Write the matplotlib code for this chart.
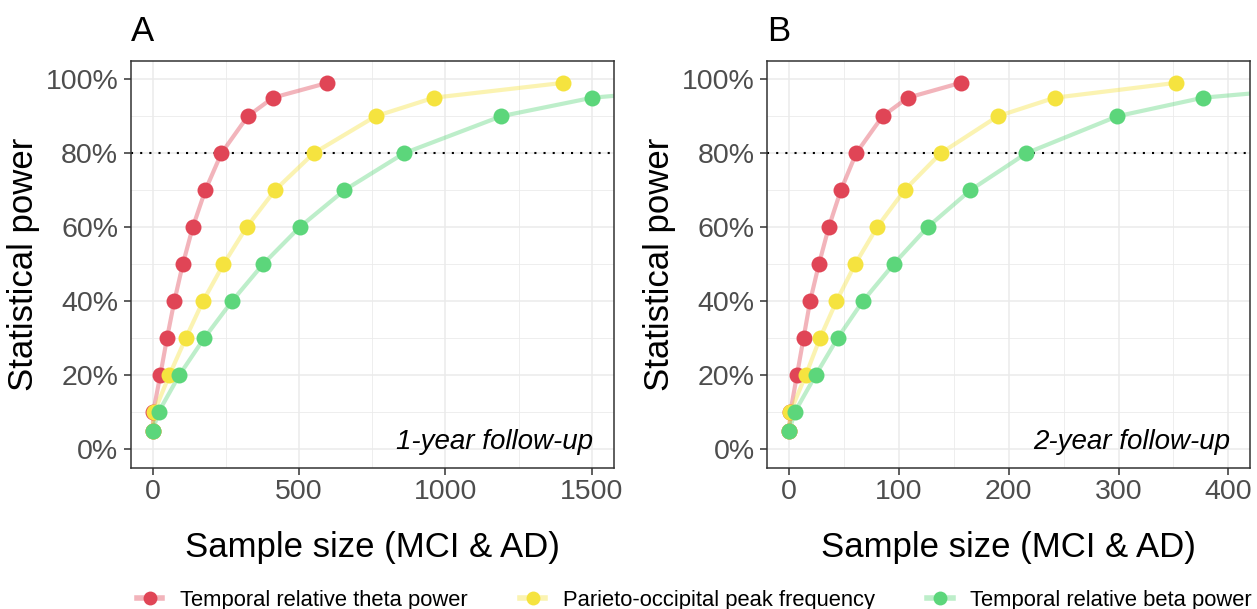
import numpy as np
import matplotlib
matplotlib.use("Agg")
import matplotlib.pyplot as plt
from matplotlib.lines import Line2D

plt.rcParams["font.family"] = ["Liberation Sans", "DejaVu Sans"]

power = [0.05, 0.10, 0.20, 0.30, 0.40, 0.50, 0.60, 0.70, 0.80, 0.90, 0.95, 0.99]
series_names = [
    "Temporal relative theta power",
    "Parieto-occipital peak frequency",
    "Temporal relative beta power",
]
colors = ["#E04556", "#F5E33F", "#5CD67B"]

# sample sizes, 1-year follow-up
n_1y_theta = [0, 2, 26, 49, 74, 103, 137, 180, 235, 325, 411, 597]
n_1y_peak = [0, 5, 57, 113, 172, 242, 321, 418, 550, 762, 961, 1401]
n_1y_beta = [0, 20, 91, 176, 271, 377, 502, 655, 859, 1191, 1502, 2100]

# sample sizes, 2-year follow-up
n_2y_theta = [0, 1, 7, 13, 19, 27, 36, 47, 61, 85, 108, 156]
n_2y_peak = [0, 1, 15, 28, 43, 60, 80, 105, 138, 190, 242, 352]
n_2y_beta = [0, 5, 24, 44, 67, 95, 126, 165, 216, 299, 377, 530]

panels = [
    ("A", "1-year follow-up", [n_1y_theta, n_1y_peak, n_1y_beta],
     [0, 500, 1000, 1500], [250, 750, 1250], (-75, 1575)),
    ("B", "2-year follow-up", [n_2y_theta, n_2y_peak, n_2y_beta],
     [0, 100, 200, 300, 400], [50, 150, 250, 350], (-20, 420)),
]

fig = plt.figure(figsize=(12.57, 6.09), dpi=100)
lefts = [130.7 / 1257, 767.3 / 1257]
W, H = 1257, 609

for left, (tag, note, data, xmaj, xmin, xlim) in zip(lefts, panels):
    ax = fig.add_axes([left, 1 - 467.7 / H, 483 / W, 407 / H])
    for n, c in zip(data, colors):
        ax.plot(n, power, color=c, lw=3, alpha=0.4, zorder=2, solid_capstyle="butt")
    for n, c in zip(data, colors):
        ax.plot(n, power, "o", color=c, ms=11.5, mec="none", zorder=3)
    ax.axhline(0.8, color="black", lw=1.5, ls=(0, (1, 3.4)), zorder=2.5)

    ax.set_xlim(*xlim)
    ax.set_ylim(-0.05, 1.05)
    ax.set_xticks(xmaj)
    ax.set_xticks(xmin, minor=True)
    ax.set_yticks(np.arange(0, 1.01, 0.2))
    ax.set_yticks(np.arange(0.1, 1.0, 0.2), minor=True)
    ax.set_yticklabels([f"{int(round(v * 100))}%" for v in np.arange(0, 1.01, 0.2)])
    ax.grid(which="major", color="#EBEBEB", lw=1.1, zorder=0)
    ax.grid(which="minor", color="#EBEBEB", lw=0.6, zorder=0)
    ax.set_axisbelow(True)
    ax.tick_params(which="major", length=5, width=1.1, color="#333333",
                   labelsize=20.5, labelcolor="#4D4D4D", pad=3)
    ax.tick_params(axis="y", which="major", pad=4)
    ax.tick_params(which="minor", length=0)
    for s in ax.spines.values():
        s.set_color("#333333")
        s.set_linewidth(1.1)

    ax.set_xlabel("Sample size (MCI & AD)", fontsize=25, labelpad=19)
    ax.set_ylabel("Statistical power", fontsize=25, labelpad=4)
    ax.set_title(tag, loc="left", fontsize=25, pad=14)
    ax.text(0.958, 0.046, note, transform=ax.transAxes, ha="right", va="baseline",
            fontsize=20, style="italic")

handles = [
    (Line2D([], [], color=c, lw=4, alpha=0.4),
     Line2D([], [], ls="none", marker="o", color=c, ms=10, mec="none"))
    for c in colors
]
fig.legend(handles, series_names, loc="lower center", ncol=3, frameon=False,
           fontsize=15.8, bbox_to_anchor=(0.5524, -0.035), handlelength=1.15,
           handletextpad=0.8, columnspacing=2.4)

fig.savefig("out.png", dpi=100)
